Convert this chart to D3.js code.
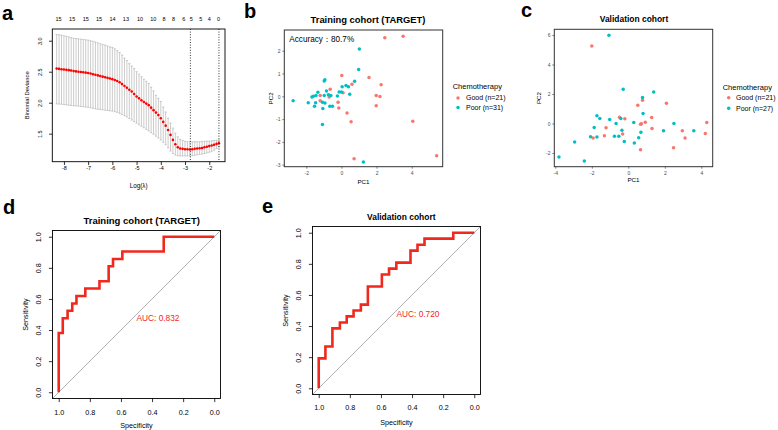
<!DOCTYPE html>
<html><head><meta charset="utf-8">
<script src="https://cdn.jsdelivr.net/npm/d3@7"></script>
<style>body{margin:0;background:#fff}svg{display:block}</style>
</head><body>
<svg id="chart" width="778" height="430" font-family="'Liberation Sans', Arial, Helvetica, sans-serif"></svg>
<script>
// ---------- Panel a : cv.glmnet ----------
const logLambda = [-8.3,-8.2,-8.1,-8.0,-7.9,-7.8,-7.7,-7.6,-7.5,-7.4,-7.3,-7.2,-7.1,-7.0,-6.9,-6.8,-6.7,-6.6,-6.5,-6.4,-6.3,-6.2,-6.1,-6.0,-5.9,-5.8,-5.7,-5.6,-5.5,-5.4,-5.3,-5.2,-5.1,-5.0,-4.9,-4.8,-4.7,-4.6,-4.5,-4.4,-4.3,-4.2,-4.1,-4.0,-3.9,-3.8,-3.7,-3.6,-3.5,-3.4,-3.3,-3.2,-3.1,-3.0,-2.9,-2.8,-2.7,-2.6,-2.5,-2.4,-2.3,-2.2,-2.1,-2.0,-1.9,-1.8,-1.7,-1.6];
const cvMean = [2.55,2.545,2.54,2.535,2.53,2.525,2.52,2.51,2.505,2.50,2.495,2.49,2.485,2.48,2.47,2.46,2.45,2.44,2.43,2.42,2.41,2.40,2.39,2.38,2.365,2.35,2.33,2.30,2.27,2.24,2.21,2.18,2.14,2.10,2.07,2.04,2.01,1.985,1.96,1.92,1.88,1.84,1.80,1.75,1.69,1.63,1.56,1.48,1.40,1.33,1.28,1.26,1.255,1.25,1.25,1.245,1.25,1.255,1.26,1.265,1.27,1.28,1.29,1.30,1.31,1.32,1.335,1.345];
const cvUpper = [3.10,3.095,3.09,3.08,3.07,3.06,3.05,3.04,3.035,3.03,3.025,3.02,3.015,3.01,3.00,2.99,2.98,2.965,2.95,2.94,2.93,2.915,2.90,2.89,2.87,2.84,2.81,2.77,2.72,2.68,2.63,2.59,2.55,2.50,2.46,2.42,2.38,2.345,2.31,2.25,2.19,2.12,2.07,2.02,1.93,1.85,1.75,1.67,1.59,1.51,1.45,1.41,1.39,1.375,1.37,1.37,1.37,1.37,1.37,1.37,1.375,1.375,1.38,1.38,1.385,1.39,1.395,1.40];
const cvLower = [1.98,1.978,1.975,1.97,1.965,1.96,1.955,1.95,1.948,1.945,1.94,1.935,1.93,1.925,1.918,1.91,1.90,1.895,1.89,1.885,1.88,1.875,1.87,1.865,1.855,1.845,1.83,1.81,1.79,1.77,1.745,1.72,1.695,1.67,1.645,1.62,1.595,1.57,1.545,1.515,1.49,1.46,1.43,1.40,1.36,1.32,1.27,1.22,1.18,1.155,1.145,1.14,1.14,1.14,1.14,1.14,1.145,1.15,1.16,1.165,1.17,1.18,1.19,1.20,1.215,1.235,1.26,1.285];
const lambdaLines = [-2.78, -1.6];
const topLabelPos = [-8.22,-7.66,-7.10,-6.55,-5.99,-5.44,-4.86,-4.31,-3.87,-3.47,-3.05,-2.74,-2.35,-2.0,-1.62];
const topLabels = ["15","15","15","15","14","13","10","10","8","8","6","5","5","4","0"];
const aXTicks = [-8,-7,-6,-5,-4,-3,-2];
const aYTicks = [1.5,2.0,2.5,3.0];

// ---------- Panel b : training PCA ----------
const bGoodPC1 = [2.47,3.51,0.02,1.57,2.26,0.60,-0.64,1.98,2.19,0.09,-1.21,-0.70,-1.21,-0.19,-0.15,1.98,0.32,0.55,4.06,5.42,0.72];
const bGoodPC2 = [2.57,2.63,0.91,0.82,0.51,0.53,0.31,0.03,-0.01,0.16,0.03,-0.03,-0.19,-0.26,-0.51,-0.41,-0.73,-1.12,-1.09,-2.61,-2.74];
const bPoorPC1 = [1.02,0.98,-0.98,-0.94,0.75,0.26,0.40,0.04,-0.13,0.00,0.47,-0.85,-1.34,-1.60,-1.68,-1.45,-0.98,-0.74,-0.60,-0.23,-2.75,-1.89,-1.47,-1.08,-0.94,-1.53,-0.66,-0.51,-1.06,-1.08,1.25];
const bPoorPC2 = [2.07,1.17,0.67,0.73,0.66,0.47,0.42,0.42,0.19,0.19,0.09,0.23,0.18,0.00,-0.03,0.04,0.04,0.07,0.03,0.01,-0.20,-0.28,-0.28,-0.26,-0.29,-0.44,-0.44,-0.44,-0.54,-1.24,-2.88];
const bXTicks = [-2,0,2,4];
const bYTicks = [-3,-2,-1,0,1,2];
const bLegend = ["Good (n=21)","Poor (n=31)"];

// ---------- Panel c : validation PCA ----------
const cGoodPC1 = [-2.0,2.09,0.78,0.52,-0.48,-0.19,1.28,0.93,0.67,-1.22,1.30,-0.31,-1.31,-1.93,2.96,3.11,4.30,4.22,0.67,2.48,0.72];
const cGoodPC2 = [5.25,1.37,1.58,1.24,0.43,0.32,0.41,0.09,-0.05,-0.29,-0.34,-0.72,-0.83,-0.99,-0.50,-0.99,0.07,-0.68,-1.78,-1.64,-0.02];
const cPoorPC1 = [-1.06,-0.28,1.39,0.78,0.81,-1.72,-1.56,-1.02,-0.41,-0.67,0.30,2.50,-1.87,-0.35,1.93,3.59,0.69,-2.07,-1.72,-0.76,-0.52,0.57,-0.22,0.33,-2.94,-3.80,-2.41];
const cPoorPC2 = [5.99,2.32,2.14,1.76,0.68,0.52,0.34,0.27,0.34,0.0,0.07,0.0,-0.27,-0.45,-0.50,-0.50,-0.59,-0.90,-0.92,-0.86,-0.86,-0.97,-1.22,-1.33,-1.26,-2.27,-2.55];
const cXTicks = [-4,-2,0,2,4];
const cYTicks = [-2,0,2,4,6];
const cLegend = ["Good (n=21)","Poor (n=27)"];

// ---------- Panels d, e : ROC ----------
const dSpec = [1,1,0.974,0.974,0.943,0.943,0.913,0.913,0.886,0.886,0.829,0.829,0.738,0.738,0.679,0.679,0.651,0.651,0.591,0.591,0.325,0.325,0];
const dSens = [0,0.381,0.381,0.476,0.476,0.524,0.524,0.571,0.571,0.619,0.619,0.667,0.667,0.714,0.714,0.810,0.810,0.857,0.857,0.905,0.905,1,1];
const eSpec = [1,1,0.957,0.957,0.912,0.912,0.864,0.864,0.820,0.820,0.776,0.776,0.729,0.729,0.684,0.684,0.594,0.594,0.548,0.548,0.501,0.501,0.410,0.410,0.365,0.365,0.320,0.320,0.135,0.135,0];
const eSens = [0,0.192,0.192,0.269,0.269,0.385,0.385,0.423,0.423,0.462,0.462,0.5,0.5,0.538,0.538,0.654,0.654,0.731,0.731,0.769,0.769,0.808,0.808,0.885,0.885,0.923,0.923,0.962,0.962,1,1];
const rocTicks = [1.0,0.8,0.6,0.4,0.2,0.0];
const aucD = "AUC: 0.832", aucE = "AUC: 0.720";

// ================= drawing =================
const svg = d3.select("#chart");
const RED = "#F8766D", CYAN = "#00BFC4";

function label(x, y, s, o = {}) {
  const t = svg.append("text").attr("x", x).attr("y", y).text(s)
    .attr("font-size", o.size || 7).attr("fill", o.fill || "#000")
    .attr("text-anchor", o.anchor || "start")
    .attr("font-weight", o.bold ? "bold" : "normal")
    .attr("dy", o.dy == null ? "0.35em" : o.dy);
  if (o.rot) t.attr("transform", `rotate(-90,${x},${y})`);
  return t;
}
function bottomAxis(scale, y, ticks, fmt, o) {
  const g = svg.append("g").attr("transform", `translate(0,${y})`)
    .call(d3.axisBottom(scale).tickValues(ticks).tickFormat(fmt).tickSize(o.tick));
  g.select(".domain").remove();
  g.attr("font-family", null).attr("font-size", null);
  g.selectAll(".tick line").attr("stroke", o.line || "#000").attr("stroke-width", o.lw || 0.8);
  g.selectAll(".tick text").attr("y", o.off).attr("dy", "0.35em").attr("font-size", o.size).attr("fill", o.color || "#000");
}
function leftAxis(scale, x, ticks, fmt, o) {
  const g = svg.append("g").attr("transform", `translate(${x},0)`)
    .call(d3.axisLeft(scale).tickValues(ticks).tickFormat(fmt).tickSize(o.tick));
  g.select(".domain").remove();
  g.attr("font-family", null).attr("font-size", null);
  g.selectAll(".tick line").attr("stroke", o.line || "#000").attr("stroke-width", o.lw || 0.8);
  const t = g.selectAll(".tick text").attr("font-size", o.size).attr("fill", o.color || "#000");
  if (o.rot) t.attr("x", null).attr("dy", "0.35em").attr("text-anchor", "middle")
      .attr("transform", `translate(${-o.off},0) rotate(-90)`);
  else t.attr("x", -o.off).attr("dy", "0.35em");
}
function box(x0, x1, y0, y1, stroke, w) {
  svg.append("rect").attr("x", x0).attr("y", y0).attr("width", x1 - x0).attr("height", y1 - y0)
    .attr("fill", "none").attr("stroke", stroke).attr("stroke-width", w);
}

// panel letters
[["a",2,20],["b",244,17.5],["c",521,17],["d",3,214],["e",262,213]].forEach(([s,x,y]) =>
  label(x, y, s, {size: 20, bold: true, dy: 0}));

// ----- Panel a -----
{
  const L = 52.3, R = 225, T = 29, B = 161.7;
  const x = d3.scaleLinear().domain([-8.48, -1.35]).range([L, R]);
  const y = d3.scaleLinear().domain([1.048, 3.189]).range([B, T]);
  const g = svg.append("g");
  logLambda.forEach((l, i) => {
    const xx = x(l);
    g.append("line").attr("x1", xx).attr("x2", xx).attr("y1", y(cvLower[i])).attr("y2", y(cvUpper[i]))
      .attr("stroke", "#a9a9a9").attr("stroke-width", 0.6);
    [cvLower[i], cvUpper[i]].forEach(v => g.append("line").attr("x1", xx - 1.1).attr("x2", xx + 1.1)
      .attr("y1", y(v)).attr("y2", y(v)).attr("stroke", "#a9a9a9").attr("stroke-width", 0.6));
  });
  g.selectAll("circle").data(logLambda).join("circle")
    .attr("cx", d => x(d)).attr("cy", (d, i) => y(cvMean[i])).attr("r", 1.3).attr("fill", "#ff0000");
  lambdaLines.forEach(l => g.append("line").attr("x1", x(l)).attr("x2", x(l)).attr("y1", T).attr("y2", B)
    .attr("stroke", "#000").attr("stroke-width", 0.8).attr("stroke-dasharray", "1,1.6"));
  box(L, R, T, B, "#000", 0.9);
  bottomAxis(x, B, aXTicks, d => d, {tick: 3.3, off: 6.8, size: 5.5});
  leftAxis(y, L, aYTicks, d3.format(".1f"), {tick: 3.3, off: 12, size: 5.5, rot: true});
  topLabelPos.forEach((p, i) => label(x(p), 19, topLabels[i], {size: 5.5, anchor: "middle"}));
  label((L + R) / 2, 186, "Log(λ)", {size: 6.3, anchor: "middle"});
  label(27, (T + B) / 2, "Binomial Deviance", {size: 5.8, anchor: "middle", rot: true});
}

// ----- PCA panel helper -----
function pcaPanel(p) {
  const x = d3.scaleLinear().domain(p.xd).range([p.L, p.R]);
  const y = d3.scaleLinear().domain(p.yd).range([p.B, p.T]);
  box(p.L, p.R, p.T, p.B, "#333", 1);
  const g = svg.append("g");
  g.selectAll(".good").data(p.gx).join("circle").attr("cx", d => x(d)).attr("cy", (d, i) => y(p.gy[i]))
    .attr("r", 1.75).attr("fill", RED);
  g.selectAll(".poor").data(p.px).join("circle").attr("cx", d => x(d)).attr("cy", (d, i) => y(p.py[i]))
    .attr("r", 1.75).attr("fill", CYAN);
  bottomAxis(x, p.B, p.xt, d => d, {tick: 2, off: 6.6, size: 5, color: "#4d4d4d", line: "#333", lw: 0.6});
  leftAxis(y, p.L, p.yt, d => d, {tick: 2, off: 3.8, size: 5, color: "#4d4d4d", line: "#333", lw: 0.6});
  label((p.L + p.R) / 2, p.xlabY, "PC1", {size: 6.2, anchor: "middle"});
  label(p.ylabX, (p.T + p.B) / 2, "PC2", {size: 6.2, anchor: "middle", rot: true});
  label(p.titleX, p.titleY, p.title, {size: p.titleSize, bold: true, anchor: "middle"});
  label(p.legX, p.legY[0], "Chemotherapy", {size: 7.5});
  [RED, CYAN].forEach((c, i) => {
    svg.append("circle").attr("cx", p.legDot).attr("cy", p.legY[i + 1]).attr("r", 1.75).attr("fill", c);
    label(p.legText, p.legY[i + 1], p.legend[i], {size: 7});
  });
}
pcaPanel({L: 284.3, R: 442.7, T: 30, B: 166.7, xd: [-3.252, 5.764], yd: [-3.088, 2.908],
  gx: bGoodPC1, gy: bGoodPC2, px: bPoorPC1, py: bPoorPC2, xt: bXTicks, yt: bYTicks,
  xlabY: 181.7, ylabX: 270.7, title: "Training cohort (TARGET)", titleX: 368, titleY: 20, titleSize: 9.4,
  legX: 452.7, legY: [86, 98, 107.5], legDot: 458, legText: 466, legend: bLegend});
label(289.3, 39, "Accuracy：80.7%", {size: 8.2});
pcaPanel({L: 554.3, R: 712.7, T: 29.3, B: 166.7, xd: [-4.055, 4.625], yd: [-2.929, 6.386],
  gx: cGoodPC1, gy: cGoodPC2, px: cPoorPC1, py: cPoorPC2, xt: cXTicks, yt: cYTicks,
  xlabY: 180, ylabX: 539.3, title: "Validation cohort", titleX: 634, titleY: 19.3, titleSize: 8.45,
  legX: 722.7, legY: [87, 97.7, 108.3], legDot: 728.7, legText: 736, legend: cLegend});

// ----- ROC panel helper -----
function rocPanel(p) {
  const x = d3.scaleLinear().domain([1.04, -0.04]).range([p.L, p.L + p.S]);
  const y = d3.scaleLinear().domain([-0.04, 1.04]).range([p.T + p.S, p.T]);
  svg.append("line").attr("x1", x(1.04)).attr("y1", y(-0.04)).attr("x2", x(-0.04)).attr("y2", y(1.04))
    .attr("stroke", "#a9a9a9").attr("stroke-width", 0.9);
  const line = d3.line().x(d => x(d[0])).y(d => y(d[1]));
  svg.append("path").datum(p.spec.map((s, i) => [s, p.sens[i]])).attr("d", line)
    .attr("fill", "none").attr("stroke", "#f0281e").attr("stroke-width", 2.6).attr("stroke-linejoin", "miter");
  box(p.L, p.L + p.S, p.T, p.T + p.S, "#000", 0.9);
  bottomAxis(x, p.T + p.S, rocTicks, d3.format(".1f"), {tick: 3.6, off: p.xoff, size: 7.2});
  leftAxis(y, p.L, rocTicks, d3.format(".1f"), {tick: 3.6, off: p.yoff, size: 7.2, rot: true});
  label(p.L + p.S / 2, p.xlabY, "Specificity", {size: 7.2, anchor: "middle"});
  label(p.ylabX, p.T + p.S / 2, "Sensitivity", {size: 7.2, anchor: "middle", rot: true});
  label(p.titleX, p.titleY, p.title, {size: p.titleSize, bold: true, anchor: "middle"});
  label(x(0.5), p.aucY, p.auc, {size: 8.3, fill: "#f0281e"});
}
rocPanel({L: 52.5, T: 230.5, S: 168, spec: dSpec, sens: dSens, xoff: 13.8, yoff: 14.5,
  xlabY: 425.7, ylabX: 25, title: "Training cohort (TARGET)", titleX: 141.7, titleY: 221, titleSize: 9.5,
  auc: aucD, aucY: 317.7});
rocPanel({L: 312.5, T: 226.5, S: 168, spec: eSpec, sens: eSens, xoff: 13.4, yoff: 14.2,
  xlabY: 422.3, ylabX: 285, title: "Validation cohort", titleX: 401.3, titleY: 217, titleSize: 8.45,
  auc: aucE, aucY: 314});
</script>
</body></html>
